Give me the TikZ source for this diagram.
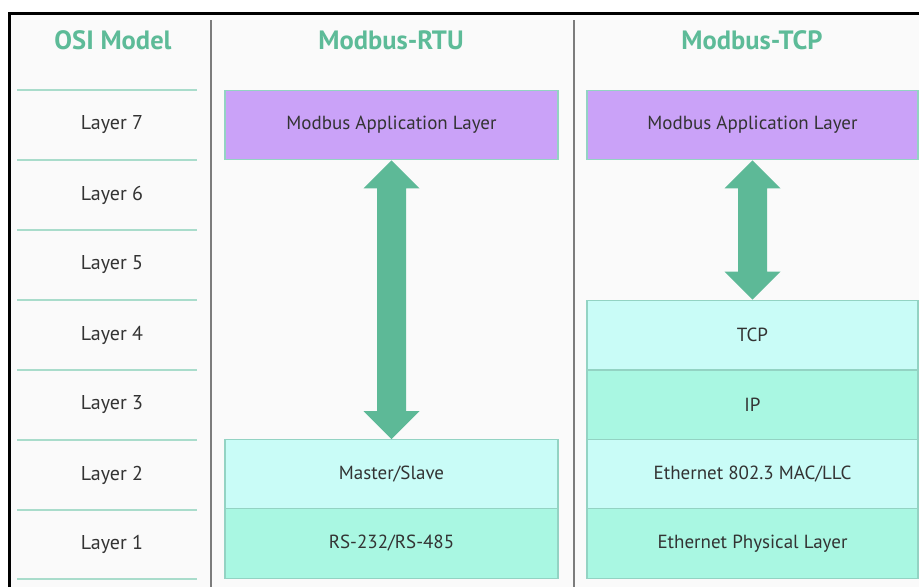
\documentclass[tikz,border=0pt]{standalone}
\usepackage{fontspec}
\setmainfont{PT Sans}
\usetikzlibrary{calc}
\definecolor{pagebg}{HTML}{FAFAFA}
\definecolor{headc}{HTML}{5DBB98}
\definecolor{sepc}{HTML}{A9DCCB}
\definecolor{divc}{HTML}{7C7C7C}
\definecolor{purp}{HTML}{CAA2F8}
\definecolor{cyanl}{HTML}{C9FCF7}
\definecolor{mint}{HTML}{A9F7E2}
\definecolor{edgec}{HTML}{93D3C3}
\definecolor{arrowc}{HTML}{5DB997}
\definecolor{txtc}{HTML}{333333}
\tikzset{
  header/.style={font=\bfseries\fontsize{26.5}{28}\selectfont, text=headc},
  layerlbl/.style={font=\fontsize{20}{22}\selectfont, text=txtc},
  box/.style={draw=edgec, line width=1.2pt, minimum height=69.5pt,
    font=\fontsize{19}{21}\selectfont, text=txtc, inner sep=0pt},
  sepline/.style={draw=sepc, line width=2pt},
  divline/.style={draw=divc, line width=2pt},
}
% double-headed block arrow from the bottom of #1 to the top of #2
\newcommand\dblarrow[2]{%
  \fill[arrowc] (#1.south) -- ($(#1.south)+(28,28)$) -- ($(#1.south)+(14.5,28)$)
    -- ($(#2.north)+(14.5,-28)$) -- ($(#2.north)+(28,-28)$) -- (#2.north)
    -- ($(#2.north)+(-28,-28)$) -- ($(#2.north)+(-14.5,-28)$)
    -- ($(#1.south)+(-14.5,28)$) -- ($(#1.south)+(-28,28)$) -- cycle;}
\begin{document}
\begin{tikzpicture}[x=1pt, y=-1pt]
  \fill[white] (0,0) rectangle (919,587);
  \useasboundingbox (0,0) rectangle (919,587);
  \fill[pagebg] (10,14) rectangle (919,587);
  % outer frame
  \draw[black, line width=2.6pt] (9.5,587) -- (9.5,13.5) -- (919,13.5);
  % column dividers
  \draw[divline] (211,20) -- (211,587);
  \draw[divline] (574,20) -- (574,587);

  % column headings
  \node[header] (hosi) at (113,40) {OSI Model};
  \node[header] (hrtu) at (391,40) {Modbus-RTU};
  \node[header] (htcp) at (752,40) {Modbus-TCP};

  % OSI layer separators
  \foreach \y in {90,160,230,300,370,440,509.5,579}
    \draw[sepline] (17,\y) -- (197,\y);
  % OSI layer labels
  \node[layerlbl] (l7) at (112,125) {Layer 7};
  \node[layerlbl] (l6) at (112,195) {Layer 6};
  \node[layerlbl] (l5) at (112,265) {Layer 5};
  \node[layerlbl] (l4) at (112,335) {Layer 4};
  \node[layerlbl] (l3) at (112,405) {Layer 3};
  \node[layerlbl] (l2) at (112,475) {Layer 2};
  \node[layerlbl] (l1) at (112,544) {Layer 1};

  % Modbus-RTU stack
  \node[box, fill=purp,  minimum width=333pt] (rapp) at (391.5,125)   {Modbus Application Layer};
  \node[box, fill=cyanl, minimum width=333pt] (rms)  at (391.5,474.5) {Master/Slave};
  \node[box, fill=mint,  minimum width=333pt] (rrs)  at (391.5,543.5) {RS-232/RS-485};

  % Modbus-TCP stack
  \node[box, fill=purp,  minimum width=331pt] (tapp) at (752.5,125)   {Modbus Application Layer};
  \node[box, fill=cyanl, minimum width=331pt] (ttcp) at (752.5,335)   {TCP};
  \node[box, fill=mint,  minimum width=331pt] (tip)  at (752.5,405)   {IP};
  \node[box, fill=cyanl, minimum width=331pt] (tmac) at (752.5,474.5) {Ethernet 802.3 MAC/LLC};
  \node[box, fill=mint,  minimum width=331pt] (tphy) at (752.5,543.5) {Ethernet Physical Layer};

  % application layer to lower layers
  \dblarrow{rapp}{rms}
  \dblarrow{tapp}{ttcp}
\end{tikzpicture}
\end{document}
